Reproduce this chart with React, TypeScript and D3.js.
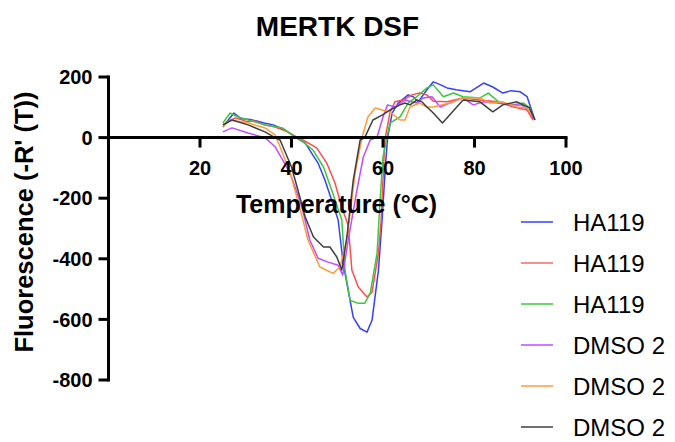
import React from "react";
import * as d3 from "d3";

type Pt = [number, number];

const title = "MERTK DSF";
const xLabel = "Temperature (°C)";
const yLabel = "Fluorescence (-R' (T))";
const xTicks = [20, 40, 60, 80, 100];
const yTicks = [200, 0, -200, -400, -600, -800];

const seriesNames = ["HA119", "HA119", "HA119", "DMSO 2", "DMSO 2", "DMSO 2"];
const seriesColors = ["#3340ff", "#ff4d4d", "#3cc83c", "#c04cff", "#ff9a3c", "#3f3f3f"];
const legendColors = ["#3340ff", "#f26b6b", "#3cc83c", "#c04cff", "#ff9a3c", "#3f3f3f"];

const ha119a: Pt[] = [[25,35],[27.4,81],[29,62],[31,60],[34,48],[36,42],[38.6,25],[41,0],[43,-18],[45.8,-84],[47.3,-140],[49,-217],[50.2,-272],[51.3,-416],[53.5,-593],[55,-630],[56.5,-642],[57.6,-603],[59,-438],[59.8,-272],[60.5,-100],[61,0],[62,81],[63.3,114],[65.5,141],[66.6,135],[67.7,118],[69.6,158],[71,184],[72.5,175],[74,164],[76,158],[79,151],[82,180],[84,167],[86.2,147],[88,155],[90,151],[91.5,135],[93.2,58]];
const ha119b: Pt[] = [[25,42],[27.7,65],[30.5,52],[32,55],[34,42],[36.4,35],[39.2,19],[41.4,0],[42.5,-8],[45.5,-34],[47.7,-84],[49.5,-150],[51,-230],[52.4,-290],[53.2,-438],[54.6,-493],[56.5,-526],[57.6,-510],[59,-382],[59.6,-272],[60.4,-8],[61.5,81],[62.6,118],[64.4,124],[66.3,141],[68,147],[69.6,141],[71,120],[74,118],[77.5,131],[81.2,124],[85,118],[88.5,101],[91.5,91],[92.8,58]];
const ha119c: Pt[] = [[25,48],[26.6,81],[28,70],[30.5,58],[34.2,42],[38,32],[40.8,2],[42.5,-14],[44.7,-41],[47,-97],[49,-183],[51,-272],[51.7,-438],[52.8,-537],[54.6,-547],[56,-547],[57.2,-514],[58.7,-382],[59.4,-197],[60,-64],[61.5,48],[63.7,68],[65.5,114],[67.4,135],[69.6,164],[71,174],[73.2,135],[75.4,147],[77.5,135],[81.2,131],[83,147],[85.6,114],[88.2,108],[90.7,114],[92.1,98],[92.8,68]];
const dmsoA: Pt[] = [[25,19],[27,32],[30.5,15],[34.2,0],[36.4,-30],[39.7,-117],[42.3,-230],[44,-338],[45.8,-398],[48,-411],[50.2,-421],[51.2,-454],[52.4,-338],[54.3,-173],[55.7,-64],[57.2,-8],[58.7,2],[60,68],[61,108],[62.6,101],[64.8,124],[66.3,118],[67.4,114],[68.8,131],[70.7,135],[72.5,101],[74.6,114],[77.5,131],[79.7,108],[82,118],[85,114],[87.7,108],[90.3,108],[92.1,85],[92.8,64]];
const dmsoB: Pt[] = [[25,35],[26.6,58],[30.5,48],[34.2,32],[36.4,9],[37.5,-30],[39.7,-117],[41.8,-230],[43.6,-338],[46.2,-427],[49.1,-448],[50.6,-427],[52.1,-338],[53.9,-117],[55.4,0],[56.7,68],[58.3,98],[59.8,91],[61.5,85],[63.7,58],[64.8,58],[65.9,101],[68,114],[69.6,101],[71,101],[74.6,114],[77.5,131],[81.2,131],[83.4,114],[86.2,118],[89.3,101],[91.5,98],[92.8,68]];
const dmsoC: Pt[] = [[25,42],[27,58],[30.5,42],[34.2,19],[36.4,0],[37.5,-8],[40,-97],[41.4,-173],[43,-262],[44.8,-328],[47,-361],[48.4,-361],[49.9,-394],[51,-437],[52.1,-328],[53.5,-140],[55,-8],[56,0],[57.8,58],[59.8,74],[61.5,91],[63.7,108],[64.8,114],[65.9,108],[67.4,124],[68.5,118],[69.6,101],[71,81],[73,48],[77.5,124],[81.2,118],[84,85],[86.2,108],[89.3,118],[92,98],[93.2,58]];

const allSeries = [ha119a, ha119b, ha119c, dmsoA, dmsoB, dmsoC];

const W = 675;
const H = 442;
const FONT = "'Liberation Sans', Arial, sans-serif";

export default function App() {
  const x = d3.scaleLinear().domain([0, 100]).range([108.5, 566]);
  const y = d3.scaleLinear().domain([-800, 200]).range([380, 77]);
  const line = d3
    .line<Pt>()
    .x((d) => x(d[0]))
    .y((d) => y(d[1]))
    .curve(d3.curveLinear);

  const legendRowsY = [222, 263, 304, 345, 386, 427];

  return (
    <svg
      width={W}
      height={H}
      style={{ position: "absolute", left: 0, top: 0, background: "#fff" }}
      fontFamily={FONT}
    >
      <rect width={W} height={H} fill="#fff" />
      <text x={337.5} y={36} textAnchor="middle" fontSize={28} fontWeight="bold">
        {title}
      </text>

      {/* data lines */}
      <g fill="none" strokeWidth={1.5} strokeLinejoin="round">
        {allSeries.map((s, i) => (
          <path key={i} d={line(s) || ""} stroke={seriesColors[i]} />
        ))}
      </g>

      {/* axes */}
      <g stroke="#000" strokeWidth={3} fill="none">
        <line x1={x(0)} x2={x(0)} y1={y(200) - 1.5} y2={y(-800) + 1.5} />
        <line x1={x(0)} x2={x(100) + 1.5} y1={y(0)} y2={y(0)} />
        {yTicks.map((t) => (
          <line key={"yt" + t} x1={x(0) - 10} x2={x(0)} y1={y(t)} y2={y(t)} />
        ))}
        {xTicks.map((t) => (
          <line key={"xt" + t} x1={x(t)} x2={x(t)} y1={y(0)} y2={y(0) + 10} />
        ))}
      </g>
      <g fontSize={20} fontWeight="bold" fill="#000">
        {yTicks.map((t) => (
          <text key={"yl" + t} x={x(0) - 16} y={y(t)} dy="0.36em" textAnchor="end">
            {t}
          </text>
        ))}
        {xTicks.map((t) => (
          <text key={"xl" + t} x={x(t)} y={y(0) + 37} textAnchor="middle">
            {t}
          </text>
        ))}
      </g>
      <text x={336.5} y={213} textAnchor="middle" fontSize={25} fontWeight="bold">
        {xLabel}
      </text>
      <text
        transform={`translate(33, 222) rotate(-90)`}
        textAnchor="middle"
        fontSize={25.5}
        fontWeight="bold"
      >
        {yLabel}
      </text>

      {/* legend */}
      <g>
        {seriesNames.map((n, i) => (
          <g key={"lg" + i}>
            <line
              x1={521}
              x2={553}
              y1={legendRowsY[i]}
              y2={legendRowsY[i]}
              stroke={legendColors[i]}
              strokeWidth={1.5}
            />
            <text x={573} y={legendRowsY[i]} dy="0.36em" fontSize={24}>
              {n}
            </text>
          </g>
        ))}
      </g>
    </svg>
  );
}
